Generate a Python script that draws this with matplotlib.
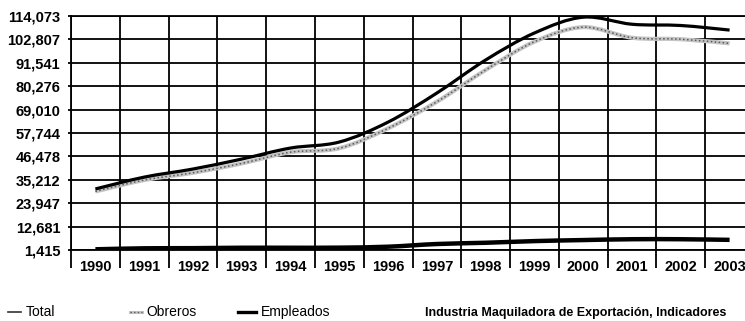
import numpy as np
import matplotlib
matplotlib.use("Agg")
import matplotlib.pyplot as plt
from matplotlib.path import Path
from matplotlib.patches import PathPatch
from matplotlib.lines import Line2D

# Maquiladora employment by year
years = ["1990", "1991", "1992", "1993", "1994", "1995", "1996",
         "1997", "1998", "1999", "2000", "2001", "2002", "2003"]
total = [30800, 36500, 40400, 45200, 50500, 53400, 63000,
         77000, 92900, 105900, 113500, 110100, 109500, 107300]
obreros = [29600, 35100, 38600, 43100, 48500, 50400, 60000,
           72800, 88100, 101700, 108700, 103600, 102900, 100900]
empleados = [1750, 2230, 2300, 2500, 2500, 2550, 3000,
             4300, 4900, 5700, 6200, 6600, 6600, 6300]
y_ticks = [1415, 12681, 23947, 35212, 46478, 57744,
           69010, 80276, 91541, 102807, 114073]

plt.rcParams["font.family"] = ["Liberation Sans", "DejaVu Sans"]

fig = plt.figure(figsize=(7.45, 3.21), dpi=100)
ax = fig.add_axes([71 / 745, 71 / 321, 683 / 745, 234 / 321])

x = np.arange(len(years))


def smooth_path(xs, ys):
    """Catmull-Rom style Bezier through the points (smoothed line)."""
    pts = np.column_stack([xs, ys]).astype(float)
    n = len(pts)
    verts = [pts[0]]
    codes = [Path.MOVETO]
    for i in range(n - 1):
        p0 = pts[i - 1] if i > 0 else pts[i]
        p1 = pts[i]
        p2 = pts[i + 1]
        p3 = pts[i + 2] if i + 2 < n else pts[i + 1]
        c1 = p1 + (p2 - p0) / 6.0
        c2 = p2 - (p3 - p1) / 6.0
        verts += [c1, c2, p2]
        codes += [Path.CURVE4] * 3
    return Path(verts, codes)


def draw_series(vals, **kw):
    patch = PathPatch(smooth_path(x, vals), fill=False, capstyle="butt",
                      joinstyle="round", zorder=4, **kw)
    ax.add_patch(patch)


# gridlines
ax.set_xlim(-0.5, len(years) - 0.5)
ax.set_ylim(y_ticks[0], y_ticks[-1])
ax.set_yticks(y_ticks)
ax.set_yticklabels([f"{v:,}" for v in y_ticks], fontsize=10.5,
                   fontweight="bold")
ax.set_xticks(x)
ax.set_xticklabels(years, fontsize=10.5, fontweight="bold")
ax.set_xticks(np.arange(len(years) + 1) - 0.5, minor=True)
ax.tick_params(axis="x", which="major", length=0, pad=7)
ax.tick_params(axis="x", which="minor", length=13, width=1.3,
               direction="out", color="black")
ax.tick_params(axis="y", length=2.5, width=1.3, pad=5)
ax.grid(True, axis="y", which="major", color="black", linewidth=1.3)
ax.grid(True, axis="x", which="minor", color="black", linewidth=1.3)
for s in ax.spines.values():
    s.set_linewidth(1.3)
ax.spines["right"].set_visible(False)

# series
draw_series(obreros, edgecolor="#c4c4c4", linewidth=3.0)
draw_series(obreros, edgecolor="#5a5a5a", linewidth=1.1,
            linestyle=(0, (1, 1.6)))
draw_series(total, edgecolor="black", linewidth=2.3)
draw_series(empleados, edgecolor="black", linewidth=3.2)

# legend
ly = 9 / 321
fig.add_artist(Line2D([8 / 745, 21 / 745], [ly, ly], color="#333333",
                      linewidth=1.2, transform=fig.transFigure))
fig.text(26 / 745, ly, "Total", fontsize=10, va="center", ha="left")
fig.add_artist(Line2D([130 / 745, 142 / 745], [ly, ly], color="#c4c4c4",
                      linewidth=2.2, transform=fig.transFigure))
fig.add_artist(Line2D([130 / 745, 142 / 745], [ly, ly], color="#5a5a5a",
                      linewidth=1.0, linestyle=(0, (1, 1.6)),
                      transform=fig.transFigure))
fig.text(146 / 745, ly, "Obreros", fontsize=10, va="center", ha="left")
fig.add_artist(Line2D([238 / 745, 256 / 745], [ly, ly], color="black",
                      linewidth=2.4, transform=fig.transFigure))
fig.text(261 / 745, ly, "Empleados", fontsize=10, va="center", ha="left")

fig.text(425 / 745, 2 / 321,
         "Industria Maquiladora de Exportación, Indicadores",
         fontsize=9, fontweight="bold", va="bottom", ha="left")

fig.savefig("out.png", dpi=100)
